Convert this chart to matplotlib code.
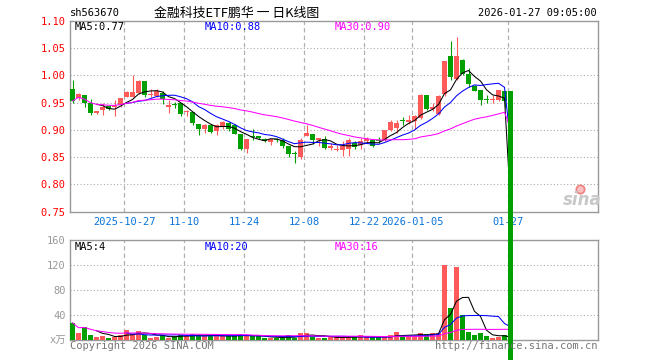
import matplotlib
matplotlib.use('Agg')
import matplotlib.pyplot as plt
from matplotlib.lines import Line2D
import numpy as np
import pandas as pd

# ---------------- data ----------------
dates = pd.bdate_range('2025-10-14', '2026-01-27', freq='C',
                       holidays=['2026-01-01', '2026-01-02'])

opens = [0.974, 0.958, 0.963, 0.950, 0.931, 0.937, 0.943, 0.942, 0.946, 0.961,
         0.961, 0.968, 0.989, 0.963, 0.962, 0.968, 0.942, 0.9465, 0.950, 0.9325,
         0.933, 0.911, 0.902, 0.908, 0.897, 0.907, 0.912, 0.908, 0.893, 0.865,
         0.888, 0.888, 0.8835, 0.8775, 0.883, 0.882, 0.871, 0.8555, 0.851, 0.889,
         0.8927, 0.882, 0.8835, 0.8665, 0.8622, 0.8622, 0.8646, 0.8768, 0.8726, 0.8787,
         0.8805, 0.8806, 0.8817, 0.899, 0.903, 0.9166, 0.914, 0.9166, 0.921, 0.964,
         0.938, 0.929, 0.9655, 1.0355, 0.9925, 1.028, 1.002, 0.981, 0.973, 0.9555,
         0.955, 0.955, 0.971, 0.971]
closes = [0.953, 0.966, 0.950, 0.930, 0.935, 0.942, 0.939, 0.943, 0.958, 0.969,
          0.969, 0.989, 0.963, 0.966, 0.972, 0.957, 0.946, 0.946, 0.929, 0.934,
          0.912, 0.902, 0.909, 0.896, 0.909, 0.915, 0.902, 0.893, 0.865, 0.884,
          0.887, 0.885, 0.879, 0.8835, 0.882, 0.870, 0.8555, 0.855, 0.882, 0.895,
          0.882, 0.885, 0.8665, 0.8707, 0.8646, 0.8695, 0.8817, 0.8683, 0.8787, 0.8835,
          0.8707, 0.8800, 0.8990, 0.914, 0.912, 0.916, 0.918, 0.9245, 0.964, 0.939,
          0.942, 0.9625, 1.0255, 0.997, 1.035, 1.002, 0.984, 0.9716, 0.9546, 0.955,
          0.9557, 0.973, 0.952, 0.0]
highs = [0.991, 0.968, 0.963, 0.957, 0.935, 0.949, 0.943, 0.954, 0.959, 0.971,
         1.000, 0.992, 0.989, 0.974, 0.974, 0.971, 0.954, 0.951, 0.950, 0.9366,
         0.933, 0.911, 0.911, 0.910, 0.911, 0.917, 0.914, 0.910, 0.893, 0.884,
         0.901, 0.889, 0.885, 0.8835, 0.885, 0.8848, 0.871, 0.8605, 0.885, 0.909,
         0.8927, 0.885, 0.888, 0.8756, 0.8726, 0.8787, 0.8848, 0.8787, 0.8848, 0.8878,
         0.8817, 0.8866, 0.900, 0.918, 0.918, 0.9227, 0.9276, 0.9276, 0.9655, 0.964,
         0.949, 0.9643, 1.0255, 1.0626, 1.0705, 1.029, 1.0135, 0.982, 0.973, 0.963,
         0.964, 0.9735, 0.971, 0.971]
lows = [0.949, 0.955, 0.942, 0.928, 0.929, 0.927, 0.936, 0.925, 0.942, 0.960,
        0.960, 0.966, 0.961, 0.960, 0.960, 0.948, 0.931, 0.940, 0.926, 0.926,
        0.909, 0.891, 0.895, 0.894, 0.891, 0.902, 0.898, 0.892, 0.863, 0.858,
        0.882, 0.883, 0.8775, 0.8725, 0.877, 0.8665, 0.851, 0.840, 0.846, 0.888,
        0.874, 0.8707, 0.8646, 0.8622, 0.8604, 0.8512, 0.8524, 0.8646, 0.8646, 0.8768,
        0.8683, 0.8756, 0.8787, 0.897, 0.894, 0.9092, 0.910, 0.902, 0.920, 0.9368,
        0.935, 0.9276, 0.9613, 0.9915, 0.991, 1.000, 0.979, 0.971, 0.946, 0.949,
        0.950, 0.952, 0.940, 0.0]
volumes = [27.7, 11.7, 20.8, 8.5, 5.3, 7.0, 3.2, 4.3, 8.5, 16.0,
           9.6, 14.4, 8.0, 3.2, 4.8, 7.5, 3.7, 6.4, 7.5, 6.4,
           9.0, 8.5, 6.4, 6.4, 6.4, 6.4, 6.4, 6.4, 9.6, 6.4,
           5.9, 5.9, 3.2, 3.7, 3.7, 3.7, 8.0, 3.7, 11.2, 11.2,
           5.3, 3.2, 3.2, 5.3, 4.3, 4.3, 4.3, 4.3, 8.0, 4.3,
           4.3, 4.3, 4.3, 8.0, 12.8, 6.4, 6.4, 6.4, 11.2, 9.6,
           11.2, 11.2, 120.0, 51.7, 116.8, 40.0, 12.8, 8.0, 11.2, 6.4,
           3.2, 5.3, 8.0, 0.0]

tick_dates = ['2025-10-27', '2025-11-10', '2025-11-24', '2025-12-08',
              '2025-12-22', '2026-01-05', '2026-01-27']
tick_labels = ['2025-10-27', '11-10', '11-24', '12-08', '12-22',
               '2026-01-05', '01-27']
price_ticks = [0.75, 0.80, 0.85, 0.90, 0.95, 1.00, 1.05, 1.10]
vol_ticks = [0, 40, 80, 120, 160]
vol_tick_labels = ['x万', '40', '80', '120', '160']

title_code = 'sh563670'
title_name = '金融科技ETF鹏华 一 日K线图'
title_time = '2026-01-27 09:05:00'
price_ma_labels = ['MA5:0.77', 'MA10:0.88', 'MA30:0.90']
vol_ma_labels = ['MA5:4', 'MA10:20', 'MA30:16']

# ---------------- styling ----------------
RED = '#ff5a5a'
GREEN = '#00a000'
MA_COLORS = ['#000000', '#0000ff', '#ff00ff']
GRID = '#aaaaaa'
SPINE = '#999999'
MONO = ['DejaVu Sans Mono', 'Noto Sans CJK SC']
plt.rcParams['font.family'] = MONO

W, H = 660, 360
fig = plt.figure(figsize=(W / 100, H / 100), dpi=100)
L, R = 70, 598
ax = fig.add_axes([L / W, (H - 211.7) / H, (R - L) / W, 191 / H])
axv = fig.add_axes([L / W, (H - 340) / H, (R - L) / W, 100 / H])
ax.set_zorder(2)
axv.set_zorder(1)

x = np.arange(len(opens))
o = np.array(opens); c = np.array(closes)
hi = np.array(highs); lo = np.array(lows); v = np.array(volumes)
up = c >= o
colors = [RED if u else GREEN for u in up]

xlim = (-2.5 / 6, (R - 72.5) / 6)
date_index = {d.strftime('%Y-%m-%d'): i for i, d in enumerate(dates)}
tick_pos = [date_index[d] - 2.5 / 6 for d in tick_dates]

# wicks
ax.vlines(x[:-1], lo[:-1], hi[:-1], colors=colors[:-1], lw=0.8, zorder=3)
# bodies
body_h = np.maximum(np.abs(c - o), 0.0018)
bottoms = np.minimum(o, c)
bars = ax.bar(x, body_h, bottom=bottoms, width=0.8, color=colors,
              linewidth=0, zorder=3)
bars.patches[-1].set_clip_on(False)
bars.patches[-1].set_zorder(5)

# moving averages
cs = pd.Series(c)
for win, col in zip([5, 10, 30], MA_COLORS):
    mp = win if win < 30 else 1
    ma = cs.rolling(win, min_periods=mp).mean()
    ax.plot(x, ma, color=col, lw=0.75, zorder=4)

ax.set_xlim(*xlim)
ax.set_ylim(0.75, 1.10)
for yv in price_ticks[1:-1]:
    ax.axhline(yv, color=GRID, lw=0.8, ls=(0, (1, 2)), zorder=1)
for xp in tick_pos:
    ax.axvline(xp, color='#b0b0b0', lw=0.9, ls=(0, (3.5, 2.5)), zorder=1)
ax.set_yticks(price_ticks)
ax.set_yticklabels(['%.2f' % t for t in price_ticks])
ax.set_xticks(tick_pos)
ax.set_xticklabels(tick_labels)
ax.tick_params(axis='y', length=0, pad=3, labelsize=7.5, labelcolor='#ff0000')
ax.tick_params(axis='x', length=0, pad=4, labelsize=7.5, labelcolor='#0a74da')
for s in ax.spines.values():
    s.set_color(SPINE); s.set_linewidth(1)

# volume panel
axv.bar(x, v, width=0.8, color=colors, linewidth=0, zorder=3)
vs = pd.Series(v)
for win, col in zip([5, 10, 30], MA_COLORS):
    mp = win if win < 30 else 1
    ma = vs.rolling(win, min_periods=mp).mean()
    axv.plot(x, ma, color=col, lw=0.75, zorder=4)
axv.set_xlim(*xlim)
axv.set_ylim(0, 160)
for yv in vol_ticks[1:-1]:
    axv.axhline(yv, color=GRID, lw=0.8, ls=(0, (1, 2)), zorder=1)
for xp in tick_pos:
    axv.axvline(xp, color='#b0b0b0', lw=0.9, ls=(0, (3.5, 2.5)), zorder=1)
axv.set_xticks(tick_pos)
axv.set_xticklabels([])
axv.set_yticks(vol_ticks)
axv.set_yticklabels(vol_tick_labels)
axv.tick_params(axis='both', length=0, pad=3, labelsize=7.5, labelcolor='#999999')
for s in axv.spines.values():
    s.set_color(SPINE); s.set_linewidth(1)


def ftext(px, py, s, **kw):
    fig.text(px / W, 1 - py / H, s, **kw)


ftext(70, 13, title_code, fontsize=7.5, color='black', ha='left', va='center')
ftext(237, 13, title_name, fontsize=9.3, color='black', ha='center', va='center',
      family=['Noto Sans CJK SC', 'DejaVu Sans'])
ftext(597, 13, title_time, fontsize=7.5, color='black', ha='right', va='center')

for px, lab, col in zip([75, 205, 335], price_ma_labels, MA_COLORS):
    ftext(px, 27, lab, fontsize=7.5, color=col, ha='left', va='center')
for px, lab, col in zip([75, 205, 335], vol_ma_labels, MA_COLORS):
    ftext(px, 247, lab, fontsize=7.5, color=col, ha='left', va='center')

ftext(70, 346, 'Copyright 2026 SINA.COM', fontsize=7.5, color='#777777',
      ha='left', va='center')
ftext(597, 346, 'http://finance.sina.com.cn', fontsize=7.5, color='#777777',
      ha='right', va='center')

# sina watermark
ftext(582, 200, 'sina', fontsize=12, fontstyle='italic', fontweight='bold',
      color='#c8c8c8', ha='center', va='center', family='DejaVu Sans',
      zorder=10)
fig.add_artist(Line2D([580 / W], [1 - 189 / H], transform=fig.transFigure,
                      marker='o', markersize=6, markerfacecolor='#f8c0c0',
                      markeredgecolor='#f08080', markeredgewidth=1.2,
                      linestyle='none', zorder=10))

fig.savefig('out.png', dpi=100)
